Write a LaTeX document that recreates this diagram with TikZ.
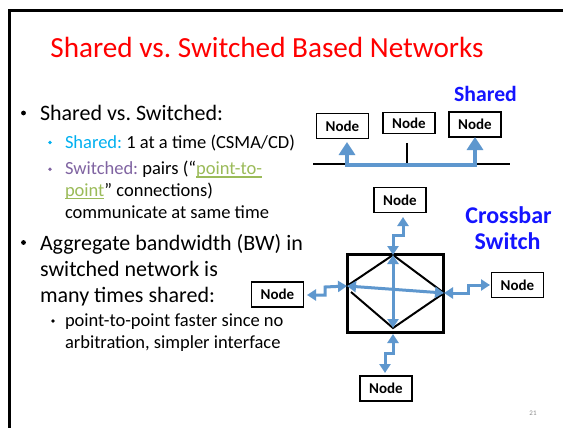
\documentclass[tikz,border=0pt]{standalone}
\usepackage{fontspec}
\setmainfont{Carlito}
\usetikzlibrary{arrows.meta}
\frenchspacing
\definecolor{titlered}{RGB}{255,0,0}
\definecolor{sharedcyan}{RGB}{0,176,240}
\definecolor{switchpurple}{RGB}{128,100,162}
\definecolor{ptpgreen}{RGB}{155,187,89}
\definecolor{labelblue}{RGB}{20,20,255}
\definecolor{linkblue}{RGB}{94,151,206}
\definecolor{pagegray}{RGB}{140,140,140}
% green hyperlink-style text with a thin underline just below the baseline
\newcommand\ulgreen[1]{{\color{ptpgreen}\setbox0=\hbox{#1}\rlap{\rule[-2.6pt]{\wd0}{1.1pt}}\box0}}
\tikzset{
  txt/.style={anchor=base west,inner sep=0pt,outer sep=0pt},
  mainline/.style={txt,font=\fontsize{22}{26}\selectfont},
  subline/.style={txt,font=\fontsize{18.5}{22}\selectfont},
  netnode/.style={draw=black,line width=1.4pt,minimum width=52pt,minimum height=25pt,
    inner sep=0pt,font=\fontsize{15}{17}\bfseries\selectfont},
  netlabel/.style={anchor=base,inner sep=0pt,text=labelblue,font=\fontsize{21.7}{25}\bfseries\selectfont},
  biglabel/.style={netlabel,font=\fontsize{24}{28}\bfseries\selectfont},
  buslink/.style={draw=linkblue,line width=4pt,{Triangle[width=16pt,length=13pt]}-{Triangle[width=16pt,length=13pt]}},
  xlink/.style={draw=linkblue,line width=3pt,{Triangle[width=11pt,length=9pt]}-{Triangle[width=11pt,length=9pt]}},
  wire/.style={draw=black,line width=2pt},
}
\begin{document}
\begin{tikzpicture}[x=1pt,y=-1pt]
\useasboundingbox (0,0) rectangle (563,428);
\fill[white] (0,0) rectangle (563,428);

% slide frame
\draw[line width=3pt] (9,428) -- (9,11) -- (563,11);

% title
\node[anchor=base,inner sep=0pt,text=titlered,font=\fontsize{29.2}{34}\selectfont] (title) at (267,58)
  {Shared vs. Switched Based Networks};

% bullet list
\fill (23.5,113) circle (2.4pt);
\node[mainline] (b1) at (40,120.7) {Shared vs. Switched:};
\fill[sharedcyan] (50,142.5) circle (1.9pt);
\node[subline] (b1a) at (65,149) {\textcolor{sharedcyan}{Shared:} 1 at a time (CSMA/CD)};
\fill[switchpurple] (50,169.3) circle (1.9pt);
\node[subline] (b1b) at (65,175) {\textcolor{switchpurple}{Switched:} pairs (“\ulgreen{point-to-}};
\node[subline] (b1c) at (65,196.8) {\ulgreen{point}” connections)};
\node[subline] (b1d) at (65,218.6) {communicate at same time};
\fill (23.5,242.5) circle (2.4pt);
\node[mainline] (b2) at (40,250) {Aggregate bandwidth (BW) in};
\node[mainline] (b2b) at (40,276.7) {switched network is};
\node[mainline] (b2c) at (40,302.7) {many times shared:};
\fill (53,321) circle (1.9pt);
\node[subline] (b2a) at (65,326.7) {point-to-point faster since no};
\node[subline] (b2d) at (65,348.5) {arbitration, simpler interface};

% shared bus
\node[netlabel] (sharedlbl) at (485.5,101.5) {Shared};
\node[netnode] (s1) at (342.5,126) {Node};
\node[netnode,minimum height=21pt] (s2) at (409,123) {Node};
\node[netnode] (s3) at (475,124.5) {Node};
\coordinate (busL) at (313,164);
\coordinate (busR) at (510,164);
\coordinate (tickTop) at (407,143);
\coordinate (tickBot) at (407,164);
\draw[wire] (busL) -- (busR);
\draw[wire] (tickTop) -- (tickBot);
\coordinate (s1in) at (347,142);
\coordinate (s3in) at (475,137);
\draw[buslink] (s1in) |- (475,165) -- (s3in);

% crossbar switch
\node[biglabel] (xlbl1) at (508.5,223.3) {Crossbar};
\node[biglabel] (xlbl2) at (507.5,249) {Switch};
\draw[line width=3.5pt] (347.5,254.5) rectangle (443.5,332.5);
\coordinate (vT) at (393,255);
\coordinate (vL) at (347,286);
\coordinate (vR) at (444,293);
\coordinate (vB) at (393,328);
\draw[wire] (vL) -- (vT) -- (vR) -- (vB) -- (351,292);
\draw[xlink] (vB) -- (vT);
\draw[xlink] (vL) -- (vR);

\node[netnode] (nt) at (400,200) {Node};
\node[netnode] (nl) at (277.5,294.5) {Node};
\node[netnode] (nr) at (517.5,285) {Node};
\node[netnode] (nb) at (386,388.5) {Node};

\coordinate (ntin) at (403,217);
\coordinate (nlin) at (307,295);
\coordinate (nrin) at (490,285);
\coordinate (nbin) at (385,373);
\coordinate (vBout) at (393,334);
\draw[xlink] (ntin) -- (403,235) -- (393,235) -- (vT);
\draw[xlink] (nlin) -- (325,295) -- (325,287) -- (vL);
\draw[xlink] (vR) -- (468,293) -- (468,285) -- (nrin);
\draw[xlink] (vBout) -- (393,353) -- (385,353) -- (nbin);

% page number
\node[inner sep=0pt,text=pagegray,font=\fontsize{7}{8}\selectfont] (pg) at (533,413) {21};
\end{tikzpicture}
\end{document}
